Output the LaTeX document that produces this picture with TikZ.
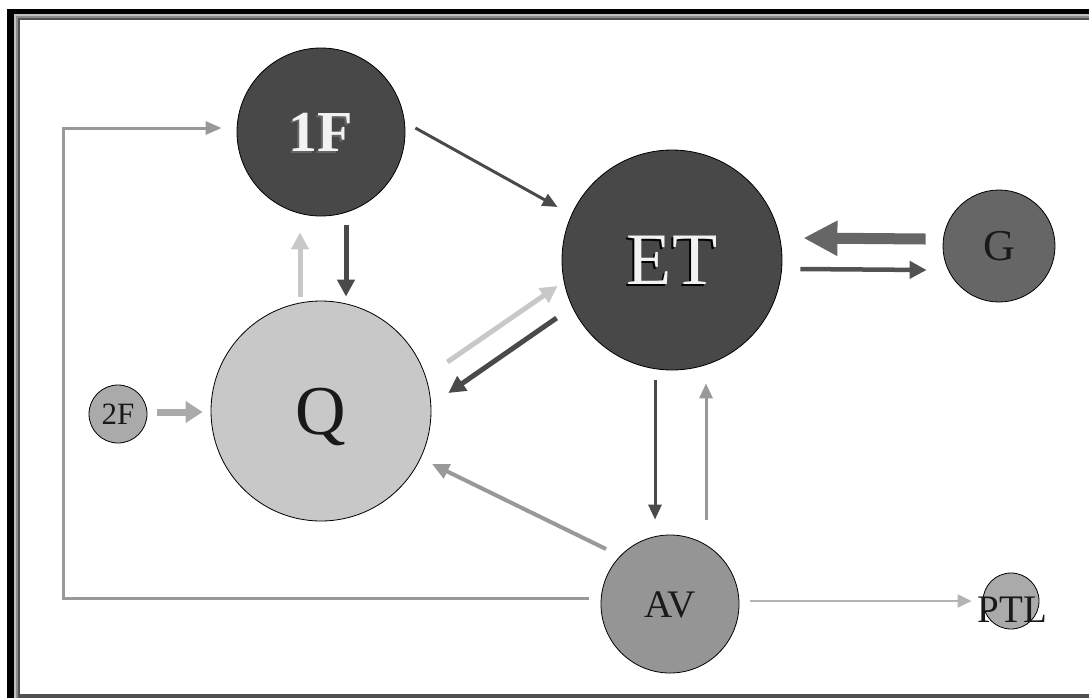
\documentclass[tikz,border=0pt]{standalone}
\usepackage{fontspec}
\setmainfont{Liberation Serif}
\usetikzlibrary{arrows.meta,calc}
\definecolor{cDark}{HTML}{484848}
\definecolor{cG}{HTML}{666666}
\definecolor{cQ}{HTML}{C8C8C8}
\definecolor{cAV}{HTML}{959595}
\definecolor{cSmall}{HTML}{AAAAAA}
\definecolor{aDark}{HTML}{4A4A4A}
\definecolor{aMid}{HTML}{999999}
\definecolor{aLight}{HTML}{C8C8C8}
\definecolor{aPale}{HTML}{B4B4B4}
\definecolor{fGrayA}{HTML}{C0C0C0}
\definecolor{fGrayB}{HTML}{8C8C8C}
\definecolor{fGrayC}{HTML}{505050}
\tikzset{
  nd/.style={circle, draw=black, line width=0.8pt, inner sep=0pt, text=black!90},
  shadowtext/.style={path picture={\node[draw=none, fill=none, shape=rectangle, minimum size=0pt, inner sep=0pt, text=#1] at ([shift={(-2pt,-2pt)}]path picture bounding box.center) {\pgfkeysvalueof{/tikz/shadowlabel}};}},
  shadowlabel/.initial={},
  thinarrow/.style={line width=3pt, -{Triangle[length=15pt,width=13pt]}},
  medarrow/.style={line width=5pt, -{Triangle[length=17pt,width=17pt]}},
  wideshaft/.style={line width=7pt, -{Triangle[length=17pt,width=21pt]}},
  fatarrow/.style={line width=11pt, -{Triangle[length=34pt,width=33pt]}},
  hairarrow/.style={line width=2pt, -{Triangle[length=14pt,width=13pt]}}
}
\begin{document}
\begin{tikzpicture}[x=1pt,y=-1pt]
\useasboundingbox (0,0) rectangle (1089,697);
\clip (0,0) rectangle (1089,697);
% frame
\fill[white] (0,0) rectangle (1089,697);
\fill[black] (7,9) rectangle (1120,720);
\fill[fGrayA] (14,14) rectangle (1115,715);
\fill[fGrayB] (16,16) rectangle (1110,710);
\fill[fGrayC] (18,18) rectangle (1105,705);
\fill[white] (20,20) rectangle (1100,694);

% nodes
\node[nd, fill=cDark, minimum size=168pt, text=white!95!black,
      font=\bfseries\fontsize{58}{58}\selectfont, text height=38pt, text depth=0pt,
      shadowlabel={1F}, shadowtext=black!60] (1F) at (321,132) {1F};
\node[nd, fill=cDark, minimum size=220pt, text=white!95!black,
      font=\fontsize{74}{74}\selectfont, text height=49pt, text depth=0pt,
      shadowlabel={ET}, shadowtext=black] (ET) at (672,260) {ET};
\node[nd, fill=cG, minimum size=112pt, font=\fontsize{44}{44}\selectfont,
      text height=28pt, text depth=0pt] (G) at (999,246) {G};
\node[nd, fill=cQ, minimum size=220pt, font=\fontsize{70}{70}\selectfont,
      text height=46pt, text depth=0pt] (Q) at (321,411) {Q};
\node[nd, fill=cSmall, minimum size=58pt, font=\fontsize{31}{31}\selectfont,
      text height=20pt, text depth=0pt] (2F) at (118,414) {2F};
\node[nd, fill=cAV, minimum size=138pt, font=\fontsize{39}{39}\selectfont,
      text height=26pt, text depth=0pt] (AV) at (670,604) {AV};
\node[nd, fill=cSmall, minimum size=56pt, font=\fontsize{39}{39}\selectfont]
      (PTL) at (1011,601) {\makebox[0pt]{\hspace*{3pt}\smash{\raisebox{-21pt}{PTL}}}};

% connectors
\coordinate (corner) at (63,598);
\draw[aMid, line width=3pt, -{Triangle[length=16pt,width=13pt]}]
  ([shift={(-12,-6)}]AV.west) -- (corner) |- ([shift={(-15,-4)}]1F.west);
\draw[aDark, thinarrow] ([shift={(10,-4)}]1F.east) -- ([shift={(-4,-53)}]ET.west);
\draw[aDark, medarrow] ([shift={(25,9)}]1F.south) -- ([shift={(25,-4)}]Q.north);
\draw[aLight, medarrow] ([shift={(-21,-4)}]Q.north) -- ([shift={(-21,16)}]1F.south);
\draw[aLight, medarrow] ([shift={(16,-49)}]Q.east) -- ([shift={(-4,26)}]ET.west);
\draw[aDark, medarrow] ([shift={(-5,58)}]ET.west) -- ([shift={(17,-18)}]Q.east);
\draw[cG, fatarrow] ([shift={(-17,-7)}]G.west) -- ([shift={(21,-22)}]ET.east);
\draw[black!68, line width=4.5pt, -{Triangle[length=17pt,width=17pt]}]
  ([shift={(18,9)}]ET.east) -- ([shift={(-16,24)}]G.west);
\draw[aDark, thinarrow] ([shift={(-17,10)}]ET.south) -- ([shift={(-15,-15)}]AV.north);
\draw[aMid, thinarrow] ([shift={(36,-15)}]AV.north) -- ([shift={(34,13)}]ET.south);
\draw[aMid, line width=4pt, -{Triangle[length=17pt,width=15pt]}]
  ([shift={(-64,-55)}]AV.center) -- ([shift={(111,53)}]Q.center);
\draw[cSmall, wideshaft] ([shift={(10,-2)}]2F.east) -- ([shift={(-8,1)}]Q.west);
\draw[aPale, hairarrow] ([shift={(11,-3)}]AV.east) -- ([shift={(-11,0)}]PTL.west);
\end{tikzpicture}
\end{document}
